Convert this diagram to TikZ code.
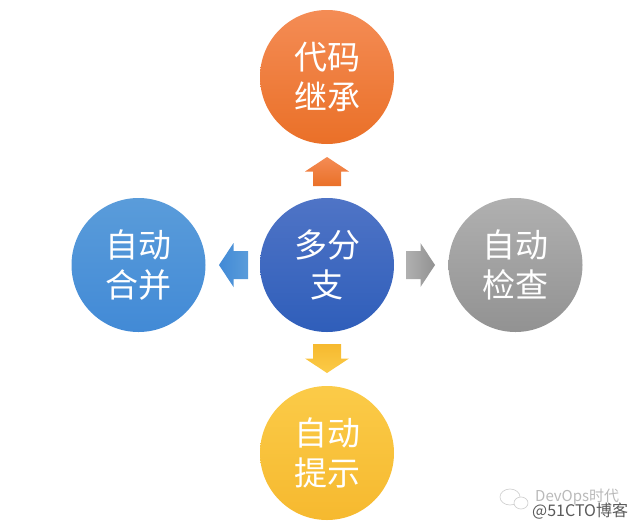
\documentclass[tikz,border=0pt]{standalone}
\usepackage{fontspec}
\newfontfamily\cjk{Noto Sans CJK SC}
\definecolor{orangetop}{HTML}{F48C55}
\definecolor{orangebot}{HTML}{EA7028}
\definecolor{bluetop}{HTML}{5A9CDA}
\definecolor{bluebot}{HTML}{428AD6}
\definecolor{hubtop}{HTML}{4F74C6}
\definecolor{hubbot}{HTML}{2F5EBA}
\definecolor{graytop}{HTML}{B0B0B0}
\definecolor{graybot}{HTML}{929292}
\definecolor{yellowtop}{HTML}{FBCB48}
\definecolor{yellowbot}{HTML}{F6B92F}
\tikzset{
	disc/.style={shape=circle, minimum size=134pt, inner sep=0pt, align=center, text=white,
		font=\cjk\fontsize{33}{40.5}\selectfont, top color=#1top, bottom color=#1bot},
	mark text/.style={inner sep=0pt, anchor=west, font=\cjk\fontsize{#1}{#1}\selectfont}
}
\begin{document}
\begin{tikzpicture}[x=1pt,y=-1pt]
	% Parameters
	\def\hubx{327}
	\def\huby{265}
	\def\reachx{188.5}
	\def\reachy{188}
	\def\gap{93.5}
	
	\useasboundingbox (0,0) rectangle (640,528);
	
	%discs
	\node[disc=hub] (hub) at (\hubx,\huby) {多分\\支};
	\node[disc=orange] (inherit) at (\hubx,\huby-\reachy) {代码\\继承};
	\node[disc=blue] (merge) at (\hubx-\reachx,\huby) {自动\\合并};
	\node[disc=gray] (check) at (\hubx+\reachx,\huby) {自动\\检查};
	\node[disc=yellow] (notify) at (\hubx,\huby+\reachy) {自动\\提示};
	
	%arrows
	\foreach \ang/\col/\dx/\dy in {0/orange/0/-1,90/blue/-1/0,-90/gray/1/0,180/yellow/0/1} {
		\begin{scope}[shift={(\hubx+\dx*\gap,\huby+\dy*\gap)},rotate=\ang]
			\shade[top color=\col top, bottom color=\col bot, shading angle=-\ang]
			(0,-14.5) -- (22,0) -- (14,0) -- (14,14.5) -- (-14,14.5) -- (-14,0) -- (-22,0) -- cycle;
		\end{scope}
	}
	
	%watermark
	\begin{scope}[gray!35, line width=0.7pt]
		\draw (510,497) ellipse (10 and 8);
		\draw[fill=white] (521,503) ellipse (7 and 6);
	\end{scope}
	\node[mark text=15, text=gray!55] (brand) at (535,497) {DevOps时代};
	\node[mark text=16, text=black!65] (site) at (532,511) {@51CTO博客};
\end{tikzpicture}
\end{document}
